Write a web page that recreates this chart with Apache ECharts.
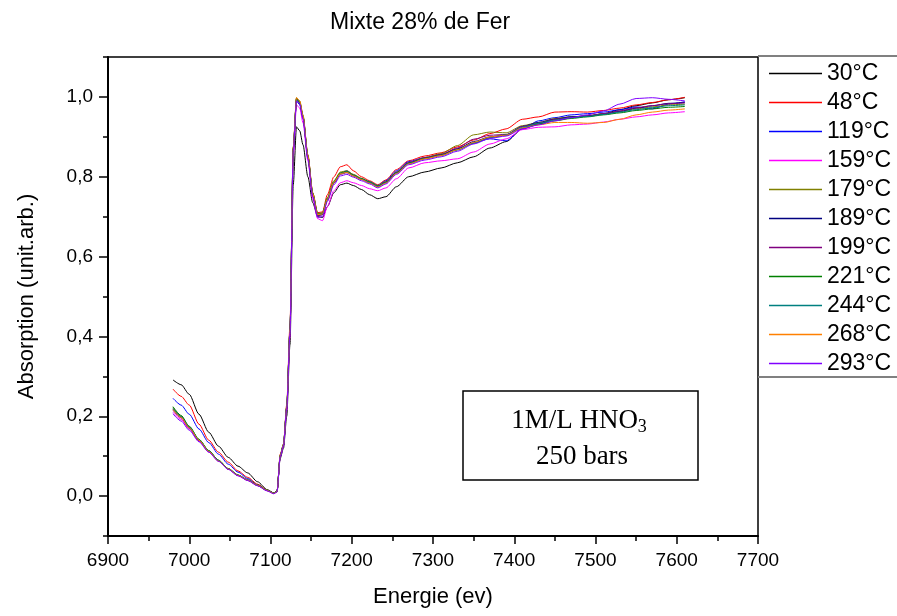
<!DOCTYPE html>
<html>
<head>
<meta charset="utf-8">
<script src="https://cdn.jsdelivr.net/npm/echarts@6/dist/echarts.min.js"></script>
<style>html,body{margin:0;padding:0;background:#fff}#c{width:897px;height:616px}</style>
</head>
<body>
<div id="c"></div>
<script>
// Energy grid (eV)
const energies = [6980,6990,7000,7012,7024,7036,7048,7060,7072,7084,7096,7104,7108,7112,7116,7120,7124,7128,7132,7136,7140,7146,7152,7158,7164,7170,7178,7186,7194,7202,7212,7222,7232,7242,7255,7270,7290,7310,7330,7350,7370,7390,7410,7430,7450,7470,7490,7510,7530,7550,7570,7590,7610];

const names = ['30°C','48°C','119°C','159°C','179°C','189°C','199°C','221°C','244°C','268°C','293°C'];

const t30  = [0.291,0.279,0.255,0.205,0.160,0.125,0.097,0.075,0.058,0.036,0.016,0.008,0.012,0.095,0.120,0.200,0.380,0.780,0.925,0.915,0.880,0.800,0.735,0.700,0.698,0.725,0.760,0.780,0.784,0.778,0.768,0.755,0.745,0.750,0.775,0.800,0.812,0.822,0.835,0.850,0.872,0.888,0.920,0.932,0.945,0.950,0.952,0.958,0.968,0.978,0.985,0.993,0.998];
const t48  = [0.268,0.250,0.228,0.180,0.140,0.110,0.085,0.063,0.047,0.030,0.015,0.007,0.012,0.105,0.130,0.230,0.430,0.870,0.995,0.985,0.950,0.855,0.760,0.710,0.712,0.755,0.800,0.825,0.830,0.815,0.800,0.790,0.780,0.792,0.818,0.840,0.852,0.860,0.875,0.892,0.908,0.920,0.944,0.950,0.962,0.963,0.962,0.966,0.972,0.980,0.986,0.993,0.999];
const t119 = [0.245,0.228,0.205,0.168,0.134,0.105,0.080,0.060,0.044,0.028,0.014,0.007,0.011,0.100,0.128,0.220,0.420,0.860,0.990,0.980,0.945,0.850,0.755,0.705,0.708,0.745,0.785,0.808,0.815,0.805,0.795,0.788,0.778,0.790,0.815,0.838,0.848,0.856,0.870,0.885,0.895,0.890,0.920,0.940,0.948,0.955,0.958,0.962,0.968,0.975,0.970,0.982,0.988];
const t159 = [0.210,0.192,0.168,0.138,0.110,0.088,0.067,0.051,0.039,0.026,0.013,0.006,0.010,0.098,0.125,0.215,0.400,0.850,0.980,0.972,0.935,0.840,0.745,0.695,0.690,0.725,0.765,0.785,0.790,0.785,0.778,0.770,0.765,0.772,0.795,0.822,0.835,0.840,0.845,0.862,0.882,0.895,0.918,0.924,0.925,0.930,0.932,0.937,0.944,0.950,0.955,0.960,0.963];
const t179 = [0.222,0.200,0.174,0.142,0.114,0.090,0.069,0.053,0.040,0.027,0.014,0.007,0.011,0.102,0.130,0.225,0.420,0.875,0.998,0.990,0.955,0.855,0.760,0.708,0.710,0.748,0.790,0.812,0.815,0.806,0.796,0.788,0.778,0.788,0.812,0.835,0.848,0.858,0.878,0.905,0.912,0.910,0.928,0.936,0.946,0.950,0.953,0.958,0.963,0.970,0.975,0.980,0.982];
const t189 = [0.218,0.198,0.172,0.140,0.112,0.089,0.068,0.052,0.040,0.027,0.014,0.007,0.011,0.100,0.128,0.222,0.415,0.870,0.995,0.986,0.950,0.850,0.755,0.703,0.705,0.742,0.785,0.808,0.812,0.803,0.794,0.786,0.776,0.786,0.810,0.834,0.846,0.855,0.870,0.888,0.900,0.905,0.926,0.936,0.944,0.950,0.952,0.957,0.964,0.972,0.978,0.984,0.986];
const t199 = [0.215,0.196,0.170,0.139,0.112,0.088,0.068,0.052,0.040,0.027,0.014,0.007,0.011,0.100,0.128,0.222,0.415,0.868,0.992,0.984,0.948,0.848,0.752,0.702,0.705,0.742,0.784,0.806,0.810,0.802,0.793,0.785,0.776,0.787,0.812,0.836,0.848,0.856,0.872,0.894,0.904,0.906,0.926,0.934,0.944,0.948,0.952,0.958,0.965,0.973,0.978,0.983,0.985];
const t221 = [0.224,0.202,0.175,0.142,0.114,0.090,0.069,0.053,0.041,0.028,0.015,0.008,0.012,0.102,0.130,0.224,0.418,0.872,0.995,0.987,0.952,0.852,0.758,0.706,0.708,0.746,0.788,0.810,0.813,0.804,0.795,0.786,0.776,0.786,0.810,0.834,0.846,0.854,0.868,0.884,0.898,0.904,0.922,0.932,0.940,0.946,0.950,0.955,0.960,0.966,0.970,0.974,0.976];
const t244 = [0.220,0.199,0.173,0.141,0.113,0.089,0.068,0.052,0.040,0.027,0.014,0.007,0.011,0.101,0.129,0.223,0.416,0.870,0.993,0.985,0.950,0.850,0.756,0.705,0.707,0.744,0.786,0.808,0.812,0.803,0.794,0.786,0.776,0.785,0.809,0.833,0.845,0.853,0.867,0.884,0.898,0.905,0.924,0.934,0.942,0.948,0.951,0.956,0.962,0.968,0.973,0.978,0.980];
const t268 = [0.217,0.197,0.171,0.140,0.112,0.088,0.068,0.052,0.040,0.027,0.014,0.007,0.011,0.101,0.129,0.223,0.418,0.874,0.998,0.990,0.953,0.852,0.757,0.705,0.707,0.744,0.786,0.808,0.811,0.802,0.793,0.784,0.774,0.784,0.808,0.832,0.845,0.853,0.868,0.886,0.900,0.904,0.922,0.930,0.936,0.936,0.934,0.936,0.944,0.955,0.962,0.967,0.970];
const t293 = [0.206,0.188,0.165,0.136,0.110,0.087,0.067,0.051,0.039,0.026,0.013,0.006,0.010,0.099,0.127,0.220,0.410,0.865,0.990,0.982,0.945,0.845,0.750,0.698,0.700,0.738,0.780,0.802,0.806,0.799,0.790,0.782,0.772,0.782,0.806,0.830,0.842,0.850,0.864,0.882,0.896,0.902,0.920,0.930,0.940,0.948,0.955,0.965,0.982,0.996,0.998,0.994,0.990];

const seriesValues = [t30,t48,t119,t159,t179,t189,t199,t221,t244,t268,t293];
const colors = ['#000000','#ff0000','#0000ff','#ff00ff','#808000','#000080','#800080','#008000','#008080','#ff8000','#8000ff'];

const xTicks = {min: 6900, max: 7700, step: 100};
const yMajorTicks = [0.0,0.2,0.4,0.6,0.8,1.0];

const FONT = '"Liberation Sans", Arial, sans-serif';
const SERIF = '"Liberation Serif", "Times New Roman", serif';

const chart = echarts.init(document.getElementById('c'), null, {renderer: 'canvas'});

const series = names.map((n, k) => ({
  name: n,
  type: 'line',
  xAxisIndex: 0,
  yAxisIndex: 0,
  data: energies.map((e, i) => [e, seriesValues[k][i]]),
  showSymbol: false,
  symbol: 'none',
  smooth: 0.25,
  smoothMonotone: 'x',
  lineStyle: {color: colors[k], width: 1},
  itemStyle: {color: colors[k]},
  emphasis: {disabled: true},
  animation: false
}));

const option = {
  animation: false,
  backgroundColor: '#fff',
  title: {
    text: 'Mixte 28% de Fer',
    left: 325,
    top: 6,
    textStyle: {fontFamily: FONT, fontSize: 23, fontWeight: 'normal', color: '#000'}
  },
  grid: {
    left: 108, right: 139, top: 57, bottom: 80,
    show: true, borderColor: '#000', borderWidth: 1.5, containLabel: false
  },
  legend: {
    orient: 'vertical',
    left: 769,
    top: 62,
    padding: 0,
    itemWidth: 53,
    itemHeight: 1.5,
    itemGap: 6,
    icon: 'rect',
    data: names,
    textStyle: {fontFamily: FONT, fontSize: 23, lineHeight: 23, color: '#000'},
    selectedMode: false
  },
  xAxis: {
    type: 'value',
    min: xTicks.min, max: xTicks.max, interval: xTicks.step,
    name: 'Energie (ev)',
    nameLocation: 'middle',
    nameGap: 50,
    nameTextStyle: {fontFamily: FONT, fontSize: 22, color: '#000'},
    axisLine: {show: true, onZero: false, lineStyle: {color: '#000', width: 2}},
    axisTick: {show: true, inside: false, length: 8, lineStyle: {color: '#000', width: 1.5}},
    minorTick: {show: true, splitNumber: 2, length: 5, lineStyle: {color: '#000', width: 1.5}},
    axisLabel: {fontFamily: FONT, fontSize: 19, color: '#000', margin: 15, formatter: v => String(v)},
    splitLine: {show: false}
  },
  yAxis: [{
    type: 'value',
    min: -0.1, max: 1.1, interval: 0.1,
    name: 'Absorption (unit.arb.)',
    nameLocation: 'middle',
    nameGap: 70,
    nameTextStyle: {fontFamily: FONT, fontSize: 22, color: '#000'},
    axisLine: {show: true, onZero: false, lineStyle: {color: '#000', width: 2}},
    axisTick: {show: true, inside: false, length: 9, customValues: yMajorTicks, lineStyle: {color: '#000', width: 1.5}},
    axisLabel: {fontFamily: FONT, fontSize: 19, color: '#000', margin: 15, customValues: yMajorTicks,
      formatter: v => v.toFixed(1).replace('.', ',')},
    splitLine: {show: false}
  }, {
    type: 'value',
    position: 'left',
    min: -0.1, max: 1.1, interval: 0.1,
    axisLine: {show: false},
    axisTick: {show: true, inside: false, length: 5, lineStyle: {color: '#000', width: 1.5}},
    axisLabel: {show: false},
    splitLine: {show: false}
  }],
  series: series,
  graphic: [
    {type: 'line', shape: {x1: 758, y1: 56, x2: 897, y2: 56}, style: {stroke: '#808080', lineWidth: 2}, z: 10},
    {type: 'line', shape: {x1: 758, y1: 377, x2: 897, y2: 377}, style: {stroke: '#808080', lineWidth: 2}, z: 10},
    {type: 'rect', shape: {x: 463, y: 391, width: 235, height: 89}, style: {fill: '#fff', stroke: '#000', lineWidth: 1.5}, z: 10},
    {type: 'text', x: 579, y: 421, z: 11,
      style: {
        text: '{a|1M/L HNO}{b|3}',
        align: 'center', verticalAlign: 'middle',
        rich: {
          a: {fontFamily: SERIF, fontSize: 27, lineHeight: 30, fill: '#000', verticalAlign: 'middle'},
          b: {fontFamily: SERIF, fontSize: 18, lineHeight: 15, fill: '#000', verticalAlign: 'bottom'}
        }
      }},
    {type: 'text', x: 582, y: 457, z: 11,
      style: {text: '250 bars', align: 'center', verticalAlign: 'middle', fontFamily: SERIF, fontSize: 27, fill: '#000'}}
  ]
};
chart.setOption(option);
</script>
</body>
</html>
